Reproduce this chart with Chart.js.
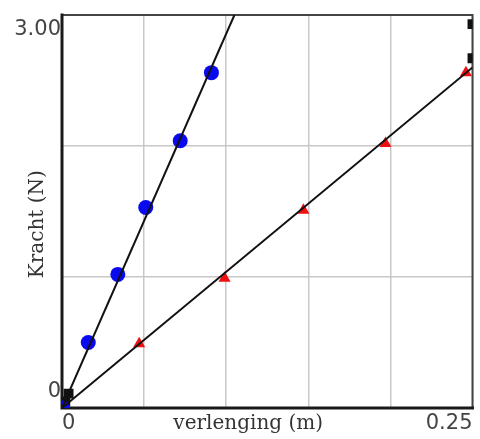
<!DOCTYPE html>
<html>
<head>
<meta charset="utf-8">
<script src="https://cdn.jsdelivr.net/npm/chart.js@4.4.0/dist/chart.umd.min.js"></script>
<style>
    body { margin: 0; background: #fff; }
</style>
</head>
<body>
<canvas id="myCanvas" width="480" height="439"></canvas>
<script>
// meetpunten veer 1 (blauw) en veer 2 (rood)
const blueX = [0, 0.016, 0.034, 0.051, 0.072, 0.091]
const blueY = [0, 0.5, 1.02, 1.53, 2.04, 2.56]
const redX = [0.047, 0.099, 0.147, 0.197, 0.246]
const redY = [0.49, 0.99, 1.51, 2.02, 2.56]

// trendlijnen
const blueFitX = [0, 0.105]
const blueFitY = [0, 3.0]
const redFitX = [0, 0.25]
const redFitY = [0, 2.6]

// zwarte markeringen op de randen
const markX = [0.004, 0.002, 0.25, 0.25]
const markY = [0.11, 0.05, 2.93, 2.67]

const xTickLabels = ['0', '0.25']
const yTickLabels = ['0', '3.00']

function toPoints(xs, ys) {
    return xs.map((x, i) => ({ x: x, y: ys[i] }))
}

// vaste maat voor de assen, geen extra ruimte voor labels
function fixSize(s) {
    if (s.isHorizontal()) {
        s.height = 31
    } else {
        s.width = 62
    }
    s.paddingTop = 0
    s.paddingBottom = 0
    s.paddingLeft = 0
    s.paddingRight = 0
}

const framePlugin = {
    id: 'frame',
    beforeDatasetsDraw(chart) {
        const { ctx, chartArea } = chart
        const { left, right, top, bottom } = chartArea
        ctx.save()
        ctx.lineCap = 'square'
        ctx.strokeStyle = '#444'
        ctx.lineWidth = 2
        ctx.beginPath()
        ctx.moveTo(left, top)
        ctx.lineTo(right, top)
        ctx.lineTo(right, bottom)
        ctx.stroke()
        ctx.strokeStyle = '#1a1a1a'
        ctx.lineWidth = 3
        ctx.beginPath()
        ctx.moveTo(left, top)
        ctx.lineTo(left, bottom)
        ctx.lineTo(right, bottom)
        ctx.stroke()
        ctx.restore()
    }
}

let ctx = document.getElementById('myCanvas').getContext('2d')

new Chart(ctx, {
    type: 'scatter',
    data: {
        datasets: [
            {
                label: 'trend 1',
                data: toPoints(blueFitX, blueFitY),
                showLine: true,
                borderColor: '#111',
                borderWidth: 2,
                pointRadius: 0,
            },
            {
                label: 'trend 2',
                data: toPoints(redFitX, redFitY),
                showLine: true,
                borderColor: '#111',
                borderWidth: 2,
                pointRadius: 0,
            },
            {
                label: 'veer 1',
                data: toPoints(blueX, blueY),
                pointStyle: 'circle',
                pointRadius: 7.5,
                backgroundColor: '#0a0aee',
                borderWidth: 0,
                clip: 0,
            },
            {
                label: 'veer 2',
                data: toPoints(redX, redY),
                pointStyle: 'triangle',
                pointRadius: 7,
                backgroundColor: '#ee1111',
                borderWidth: 0,
                clip: 0,
            },
            {
                label: 'markering',
                data: toPoints(markX, markY),
                pointStyle: 'rect',
                pointRadius: 7,
                backgroundColor: '#111',
                borderWidth: 0,
                clip: 0,
            },
        ],
    },
    options: {
        responsive: false,
        animation: false,
        layout: { padding: { top: 15, right: 3, left: 0, bottom: 0 } },
        plugins: {
            legend: { display: false },
            tooltip: { enabled: false },
        },
        scales: {
            x: {
                type: 'linear',
                min: 0,
                max: 0.25,
                afterFit: fixSize,
                grid: { color: '#c8c8c8', lineWidth: 1.5, drawTicks: false },
                border: { display: false },
                ticks: {
                    stepSize: 0.05,
                    align: 'inner',
                    padding: 3,
                    maxRotation: 0,
                    autoSkip: false,
                    color: '#444',
                    font: { family: 'DejaVu Sans', size: 21 },
                    callback: (v, i, ticks) => i === 0 ? xTickLabels[0] : (i === ticks.length - 1 ? xTickLabels[1] : ''),
                },
                title: {
                    display: true,
                    text: 'verlenging (m)      ',
                    color: '#333',
                    font: { family: 'DejaVu Serif', size: 20 },
                    padding: { top: 0, bottom: 3 },
                },
            },
            y: {
                min: 0,
                max: 3,
                afterFit: fixSize,
                grid: { color: '#c8c8c8', lineWidth: 1.5, drawTicks: false },
                border: { display: false },
                ticks: {
                    stepSize: 1,
                    padding: 1,
                    color: '#444',
                    font: (c) => ({
                        family: 'DejaVu Sans',
                        size: 21,
                        lineHeight: (c.tick && c.tick.value === 0) ? '33px' : '30px',
                    }),
                    callback: (v) => v === 0 ? [yTickLabels[0], ''] : (v === 3 ? ['', yTickLabels[1]] : ''),
                },
                title: {
                    display: true,
                    text: 'Kracht (N)    ',
                    color: '#333',
                    font: { family: 'DejaVu Serif', size: 20 },
                    padding: { top: 26, bottom: 0 },
                },
            },
        },
    },
    plugins: [framePlugin],
})
</script>
</body>
</html>
